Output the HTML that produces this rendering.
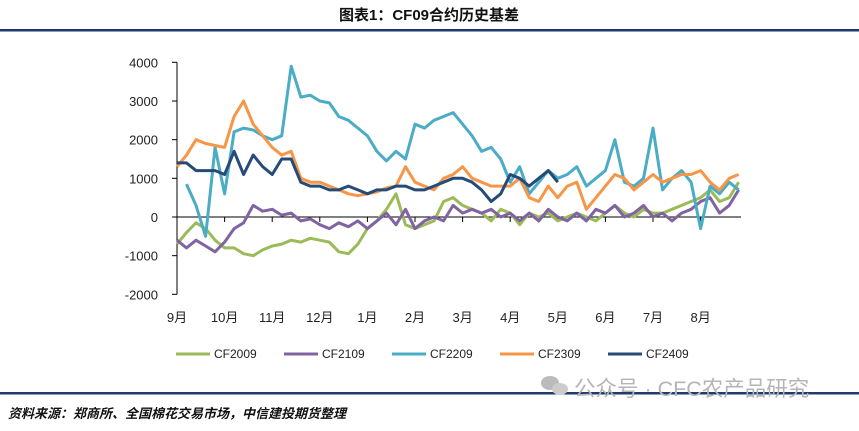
<!DOCTYPE html>
<html><head><meta charset="utf-8"><style>
body{margin:0;background:#fff;}
svg text{font-family:"Liberation Sans","Noto Sans CJK SC",sans-serif;}
</style></head><body>
<svg width="859" height="426" viewBox="0 0 859 426">
<text x="429" y="20" text-anchor="middle" font-size="15" font-weight="bold" fill="#111">图表1：CF09合约历史基差</text>
<rect x="0" y="29" width="859" height="2.5" fill="#1F3B6E"/>
<g id="axes"></g>
<g id="series"></g>
<g id="legend"></g>
<rect x="0" y="392" width="859" height="2.5" fill="#1F3B6E"/>
<g fill="#bbb"><ellipse cx="550" cy="383" rx="9" ry="7"/><ellipse cx="560" cy="389" rx="8" ry="6" fill="#ccc"/></g>
<text x="574" y="396" font-size="21.5" fill="#b5b5b5">公众号 · CFC农产品研究</text>
<text x="8" y="418" font-size="13" font-weight="bold" font-style="italic" fill="#111">资料来源：郑商所、全国棉花交易市场，中信建投期货整理</text>
</svg>
<script>
const yTicks=[4000,3000,2000,1000,0,-1000,-2000];
const months=["9月","10月","11月","12月","1月","2月","3月","4月","5月","6月","7月","8月"];
const seriesNames=["CF2009","CF2109","CF2209","CF2309","CF2409"];
const cf2009=[-700,-400,-150,-300,-600,-800,-800,-950,-1000,-850,-750,-700,-600,-650,-550,-600,-650,-900,-950,-700,-300,-100,200,600,-200,-300,-200,-100,400,500,300,200,100,-100,200,100,-200,100,0,100,-100,0,100,0,-100,100,300,100,0,200,100,100,200,300,400,500,700,400,500,900];
const cf2109=[-600,-800,-600,-750,-900,-650,-300,-150,300,150,200,50,100,-100,-50,-200,-300,-150,-250,-100,-300,-100,100,-200,200,-300,-100,0,-100,300,100,200,100,200,0,100,-100,100,-100,200,0,-100,100,-100,200,100,300,0,100,300,0,100,-100,100,200,400,500,100,300,700];
const cf2209=[null,850,300,-500,1800,600,2200,2300,2250,2100,2000,2100,3900,3100,3150,3000,2950,2600,2500,2300,2100,1700,1450,1700,1500,2400,2300,2500,2600,2700,2400,2100,1700,1800,1500,900,1300,600,900,1200,1000,1100,1300,800,1000,1200,2000,900,800,1000,2300,700,1000,1200,900,-300,800,600,900,700];
const cf2309=[1300,1600,2000,1900,1850,1800,2600,3000,2400,2100,1800,1600,1700,1000,900,900,800,700,600,550,600,650,750,800,1300,900,800,700,1000,1100,1300,1000,900,800,800,800,1000,500,400,800,500,800,900,200,500,800,1100,1000,700,900,1100,900,1000,1100,1100,1200,900,700,1000,1100];
const cf2409=[1400,1400,1200,1200,1200,1100,1700,1100,1600,1300,1100,1500,1500,900,800,800,700,700,800,700,600,700,700,800,800,700,700,800,900,1000,1000,900,700,400,600,1100,1000,800,1000,1200,900];
const allSeries=[cf2009,cf2109,cf2209,cf2309,cf2409];
const colors=["#9BBB59","#8064A2","#4BACC6","#F79646","#264B78"];
const x0=177,monthW=47.6,stepM=0.2;
const yS=v=>217-v*0.03867;
const xS=m=>x0+m*monthW;
const NS="http://www.w3.org/2000/svg";
function mk(t,a,p){const e=document.createElementNS(NS,t);for(const k in a)e.setAttribute(k,a[k]);p.appendChild(e);return e;}
const ax=document.getElementById('axes');
const yl=mk('line',{x1:x0,y1:yS(4000),x2:x0,y2:yS(-2000),stroke:'#000','stroke-width':1},ax);


yTicks.forEach(v=>{
 const t=mk('line',{x1:x0-5,y1:yS(v),x2:x0,y2:yS(v),stroke:'#000'},ax);
 
 
 const l=mk('text',{x:158,y:yS(v)+5,'text-anchor':'end','font-size':13,fill:'#222'},ax);
 l.textContent=v;
 
 
});
const xl=mk('line',{x1:x0,y1:yS(0),x2:741,y2:yS(0),stroke:'#000','stroke-width':1},ax);


months.forEach((m,i)=>{
 const t=mk('line',{x1:xS(i),y1:yS(0),x2:xS(i),y2:yS(0)+5,stroke:'#000'},ax);
 
 
 const l=mk('text',{x:xS(i),y:322,'text-anchor':'middle','font-size':13,fill:'#222'},ax);
 l.textContent=m;
 
 
});
const sg=document.getElementById('series');
allSeries.forEach((s,k)=>{
 let d='',pen=false;
 s.forEach((v,i)=>{if(v===null){pen=false;return;}d+=(pen?'L':'M')+xS(i*stepM).toFixed(1)+','+yS(v).toFixed(1);pen=true;});
 const p=mk('path',{d:d,fill:'none',stroke:colors[k],'stroke-width':3,'stroke-linejoin':'round'},sg);
 
 
});
const lg=document.getElementById('legend');
seriesNames.forEach((n,k)=>{
 const gx=176+k*108;
 const g=mk('g',{},lg);
 
 
 mk('line',{x1:gx,y1:354,x2:gx+34,y2:354,stroke:colors[k],'stroke-width':3},g);
 const t=mk('text',{x:gx+38,y:358,'font-size':12,fill:'#222'},g);
 t.textContent=n;
});
</script>
</body></html>
